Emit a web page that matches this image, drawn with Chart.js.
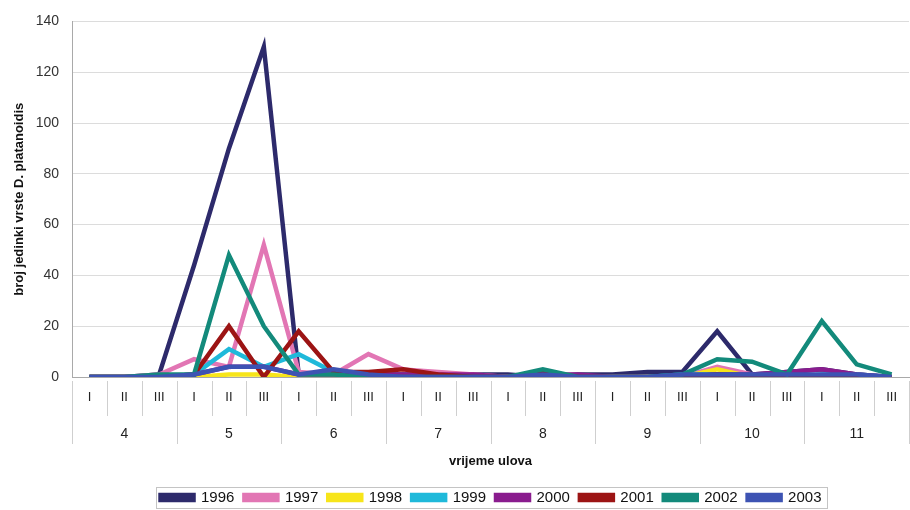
<!DOCTYPE html>
<html>
<head>
<meta charset="utf-8">
<script src="https://cdn.jsdelivr.net/npm/chart.js@4.4.1/dist/chart.umd.min.js"></script>
<style>
  html, body { margin: 0; padding: 0; background: #fff; }
  #wrap { width: 910px; height: 510px; }
</style>
</head>
<body>
<div id="wrap"><canvas id="grafico"></canvas></div>
<script>
    // dekade (I, II, III) za svaki mjesec 4-11
    const dekade = ['I','II','III','I','II','III','I','II','III','I','II','III',
                    'I','II','III','I','II','III','I','II','III','I','II','III'];
    const mjeseci = ['4','5','6','7','8','9','10','11'];
    const godine = ['1996','1997','1998','1999','2000','2001','2002','2003'];
    const boje = ['#2d2a6b','#e276b4','#f7e51a','#1fb9da','#8a1c8e','#9c1414','#138a7b','#3d53b3'];

    const v1996 = [0,0,1,44,90,130,1,2,1,1,1,1,1,0,1,1,2,2,18,1,2,3,1,0];
    const v1997 = [0,0,1,7,4,52,2,1,9,3,2,1,0,1,0,0,0,0,4,1,0,0,0,0];
    const v1998 = [0,0,0,0,1,1,0,0,0,0,0,0,0,0,0,0,0,0,3,0,0,0,0,0];
    const v1999 = [0,0,0,1,11,4,9,2,1,0,0,0,0,2,0,0,0,1,1,1,0,1,1,0];
    const v2000 = [0,0,0,1,4,4,1,1,1,1,1,1,0,1,1,0,0,0,1,1,2,3,1,0];
    const v2001 = [0,0,0,1,20,0,18,2,2,3,1,0,0,2,0,0,0,0,1,0,0,0,0,0];
    const v2002 = [0,0,1,1,48,20,1,1,0,0,0,0,0,3,0,0,0,1,7,6,1,22,5,1];
    const v2003 = [0,0,0,1,4,4,1,3,1,0,0,0,0,1,0,0,0,1,1,1,1,1,1,0];
    const serije = [v1996, v1997, v1998, v1999, v2000, v2001, v2002, v2003];

    Chart.defaults.font.family = '"Liberation Sans", Arial, sans-serif';
    Chart.defaults.color = '#222';

    // legenda centrirana iznad podrucja grafa i malo nize
    const pomakLegende = {
        id: 'pomakLegende',
        afterLayout(chart) {
            const lg = chart.legend;
            lg.left = chart.chartArea.left;
            lg.top += 7;
            lg.bottom += 7;
        }
    };

    // crta razdjelnike ispod osi x i okvir oko legende
    const razdjelnici = {
        id: 'razdjelnici',
        afterDraw(chart) {
            const ctx = chart.ctx;
            const x = chart.scales.x;
            const sirina = (x.right - x.left) / dekade.length;
            ctx.save();
            ctx.strokeStyle = '#cfcfcf';
            ctx.lineWidth = 1;
            for (let i = 0; i <= dekade.length; i++) {
                const px = Math.round(x.left + i * sirina) + 0.5;
                const kraj = (i % 3 == 0) ? 444 : 416;
                ctx.beginPath();
                ctx.moveTo(px, x.top + 4);
                ctx.lineTo(px, kraj);
                ctx.stroke();
            }
            // okvir legende
            const boxes = chart.legend.legendHitBoxes;
            if (boxes && boxes.length) {
                let l = Infinity, r = -Infinity, t = Infinity, b = -Infinity;
                boxes.forEach(h => {
                    l = Math.min(l, h.left); r = Math.max(r, h.left + h.width);
                    t = Math.min(t, h.top); b = Math.max(b, h.top + h.height);
                });
                ctx.strokeStyle = '#c4c4c4';
                ctx.strokeRect(Math.round(l - 5) + 0.5, Math.round(t - 3) + 0.5, Math.round(r - l + 10), Math.round(b - t + 6));
            }
            ctx.restore();
        }
    };

    const datasets = godine.map((g, i) => ({
        label: g,
        data: serije[i],
        borderColor: boje[i],
        backgroundColor: boje[i],
        borderWidth: 4.5,
        pointRadius: 0,
        tension: 0,
        order: godine.length - i,
        xAxisID: 'x'
    }));

    const config = {
        type: 'line',
        data: { labels: dekade, datasets: datasets },
        options: {
            responsive: true,
            maintainAspectRatio: false,
            animation: false,
            layout: { padding: { top: 6, left: 5, right: 0, bottom: 2 } },
            plugins: {
                tooltip: { enabled: false },
                legend: {
                    position: 'bottom',
                    labels: {
                        boxWidth: 33,
                        boxHeight: 5,
                        padding: 10,
                        color: '#111',
                        font: { size: 15 },
                        sort: (a, b) => a.datasetIndex - b.datasetIndex
                    }
                }
            },
            scales: {
                x: {
                    type: 'category',
                    offset: true,
                    grid: { display: false, drawTicks: false },
                    border: { display: true, color: '#a9a9a9' },
                    ticks: { padding: 13, autoSkip: false, maxRotation: 0, font: { size: 13 }, color: '#222' },
                    afterFit: (s) => { s.height = 40; }
                },
                x2: {
                    type: 'category',
                    position: 'bottom',
                    labels: mjeseci,
                    offset: true,
                    grid: { display: false, drawTicks: false },
                    border: { display: false },
                    ticks: { padding: 9, autoSkip: false, maxRotation: 0, font: { size: 14 }, color: '#222' },
                    title: { display: true, text: 'vrijeme ulova', font: { size: 13, weight: 'bold' }, color: '#111', padding: { top: 4, bottom: 4 } },
                    afterFit: (s) => { s.height = 56; }
                },
                y: {
                    min: 0,
                    max: 140,
                    ticks: { stepSize: 20, padding: 13, font: { size: 14 }, color: '#333' },
                    grid: { color: '#dcdcdc', drawTicks: false },
                    border: { display: true, color: '#a9a9a9' },
                    title: { display: true, text: 'broj jedinki vrste D. platanoidis', font: { size: 13, weight: 'bold' }, color: '#111', padding: { top: 7, bottom: 4 } },
                    afterFit: (s) => { s.width = 67; }
                }
            }
        },
        plugins: [pomakLegende, razdjelnici]
    };

    let mojGrafik = new Chart(document.getElementById('grafico'), config);
</script>
</body>
</html>
